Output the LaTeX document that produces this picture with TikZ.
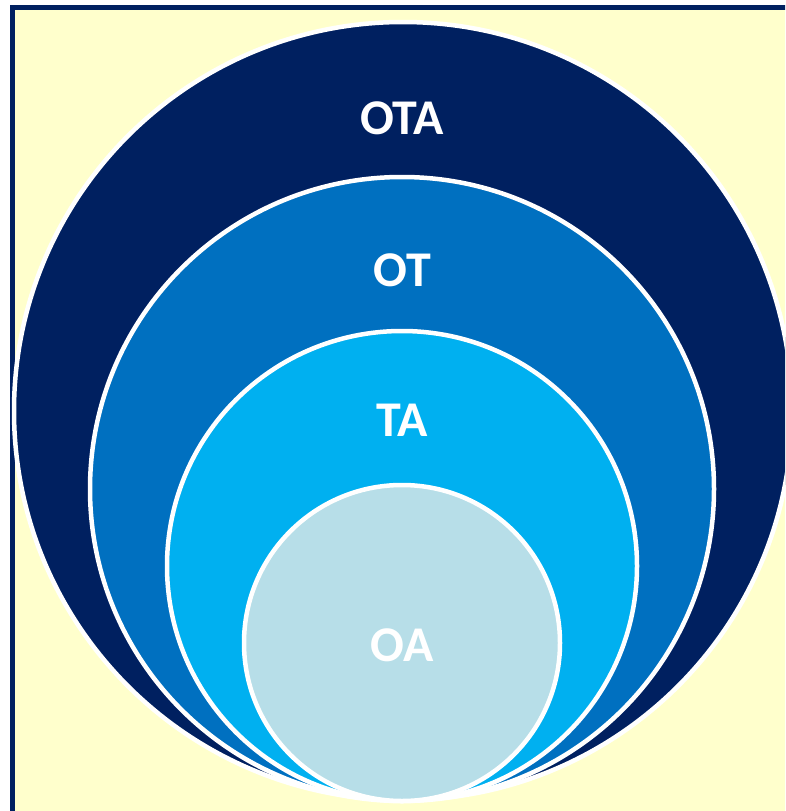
\documentclass[tikz,border=0pt]{standalone}
\usepackage{fontspec}
\setmainfont{Carlito}
\definecolor{navy}{HTML}{002060}
\definecolor{midblue}{HTML}{0070C0}
\definecolor{skyblue}{HTML}{00B0F0}
\definecolor{paleblue}{HTML}{B7DEE8}
\definecolor{bgyellow}{HTML}{FFFFCC}
\begin{document}
\begin{tikzpicture}[x=1pt,y=-1pt,
  ring/.style={circle, draw=white, line width=4.5pt, inner sep=0pt},
  lbl/.style={text=white, font=\fontsize{50}{52}\selectfont\bfseries, inner sep=0pt}]
\useasboundingbox (0,0) rectangle (785,811);
\clip (0,0) rectangle (785,811);
\fill[white] (0,0) rectangle (785,811);
\draw[navy, line width=5pt, fill=bgyellow] (12.5,7.5) rectangle (820,840);
\node[ring, fill=navy, minimum size=778pt] (ota) at (403,411) {};
\node[ring, fill=midblue, minimum size=624pt] (ot) at (402,489) {};
\node[ring, fill=skyblue, minimum size=470pt] (ta) at (402,566) {};
\node[ring, fill=paleblue, minimum size=316pt] (oa) at (402,643) {};
\node[lbl] (tota) at (402,118) {OTA};
\node[lbl] (tot) at (402,270) {OT};
\node[lbl] (tta) at (402,420) {TA};
\node[lbl] (toa) at (402,645) {OA};
\end{tikzpicture}
\end{document}
